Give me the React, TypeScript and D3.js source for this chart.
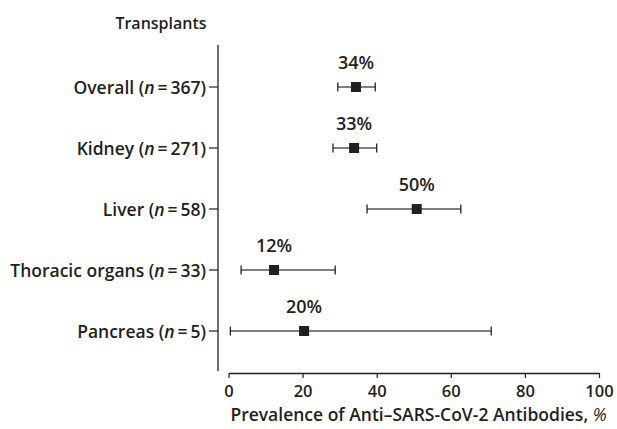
import React, { useRef, useEffect } from "react";
import * as d3 from "d3";

// Transplant groups, sample sizes, seroprevalence point estimates and 95% CI
const categories = ["Overall", "Kidney", "Liver", "Thoracic organs", "Pancreas"];
const counts = [367, 271, 58, 33, 5];
const estimates = [34.4, 33.9, 50.8, 12.3, 20.4];
const lowerCI = [29.5, 28.2, 37.4, 3.4, 0.5];
const upperCI = [39.6, 40.0, 62.7, 28.8, 70.9];
const pctLabels = ["34%", "33%", "50%", "12%", "20%"];
const xTicks = [0, 20, 40, 60, 80, 100];

const FONT = "'Open Sans', 'Noto Sans', sans-serif";
const INK = "#231f20";
const BAR = "#555555";

export default function App() {
  const svgRef = useRef<SVGSVGElement>(null);

  useEffect(() => {
    if (!svgRef.current) return;
    const svg = d3.select(svgRef.current);
    svg.selectAll("*").remove();

    const width = 617;
    const height = 429;
    svg.attr("width", width).attr("height", height);

    svg.append("rect").attr("width", width).attr("height", height).attr("fill", "#fff");

    const xScale = d3.scaleLinear().domain([0, 100]).range([228.5, 599]);
    const yScale = d3.scalePoint<string>().domain(categories).range([87, 331]);

    const yAxisX = 218;
    const xAxisY = 373;

    // y axis (plain vertical line with ticks)
    svg.append("line")
      .attr("x1", yAxisX).attr("x2", yAxisX)
      .attr("y1", 45).attr("y2", 371)
      .attr("stroke", INK).attr("stroke-width", 1.3);

    categories.forEach((cat, i) => {
      const y = yScale(cat)!;
      svg.append("line")
        .attr("x1", yAxisX - 9).attr("x2", yAxisX)
        .attr("y1", y).attr("y2", y)
        .attr("stroke", INK).attr("stroke-width", 1.2);

      const label = svg.append("text")
        .attr("x", 206)
        .attr("y", y + 6.5)
        .attr("text-anchor", "end")
        .style("font-family", FONT)
        .style("font-weight", 600)
        .style("font-size", "17.5px")
        .style("fill", INK);
      label.append("tspan").text(`${cat} (`);
      label.append("tspan").style("font-style", "italic").text("n");
      label.append("tspan").text(`\u2009=\u2009${counts[i]})`);
    });

    // title above y axis
    svg.append("text")
      .attr("x", 161)
      .attr("y", 29)
      .attr("text-anchor", "middle")
      .style("font-family", FONT)
      .style("font-weight", 600)
      .style("font-size", "16px")
      .style("fill", INK)
      .text("Transplants");

    // x axis
    const xAxis = d3.axisBottom(xScale)
      .tickValues(xTicks)
      .tickSize(5)
      .tickSizeOuter(0)
      .tickPadding(7)
      .tickFormat(d => `${d}`);
    const xg = svg.append("g")
      .attr("transform", `translate(0,${xAxisY})`)
      .call(xAxis);
    xg.select(".domain").attr("stroke", INK).attr("stroke-width", 1.3);
    xg.selectAll(".tick line").attr("stroke", INK).attr("stroke-width", 1.2);
    xg.selectAll(".tick text")
      .style("font-family", FONT)
      .style("font-weight", 600)
      .style("font-size", "16.5px")
      .style("fill", INK);

    const xTitle = svg.append("text")
      .attr("x", 418.5)
      .attr("y", 421)
      .attr("text-anchor", "middle")
      .style("font-family", FONT)
      .style("font-weight", 600)
      .style("font-size", "17.5px")
      .style("fill", INK);
    xTitle.append("tspan").text("Prevalence of Anti\u2013SARS-CoV-2 Antibodies, ");
    xTitle.append("tspan").style("font-style", "italic").style("font-weight", 400).text("%");

    // error bars, squares and value labels
    const sq = 10;
    const cap = 4.5;
    categories.forEach((cat, i) => {
      const y = yScale(cat)!;
      const x0 = xScale(lowerCI[i]);
      const x1 = xScale(upperCI[i]);
      const xc = xScale(estimates[i]);

      svg.append("line")
        .attr("x1", x0).attr("x2", x1)
        .attr("y1", y).attr("y2", y)
        .attr("stroke", BAR).attr("stroke-width", 1.3);
      [x0, x1].forEach(x => {
        svg.append("line")
          .attr("x1", x).attr("x2", x)
          .attr("y1", y - cap).attr("y2", y + cap)
          .attr("stroke", INK).attr("stroke-width", 1.3);
      });

      svg.append("rect")
        .attr("x", xc - sq / 2).attr("y", y - sq / 2)
        .attr("width", sq).attr("height", sq)
        .attr("fill", INK);

      svg.append("text")
        .attr("x", xc)
        .attr("y", y - 18)
        .attr("text-anchor", "middle")
        .style("font-family", FONT)
        .style("font-weight", 600)
        .style("font-size", "18px")
        .style("fill", INK)
        .text(pctLabels[i]);
    });
  }, []);

  return (
    <div style={{ position: "absolute", left: 0, top: 0 }}>
      <svg ref={svgRef} style={{ display: "block" }} />
    </div>
  );
}
